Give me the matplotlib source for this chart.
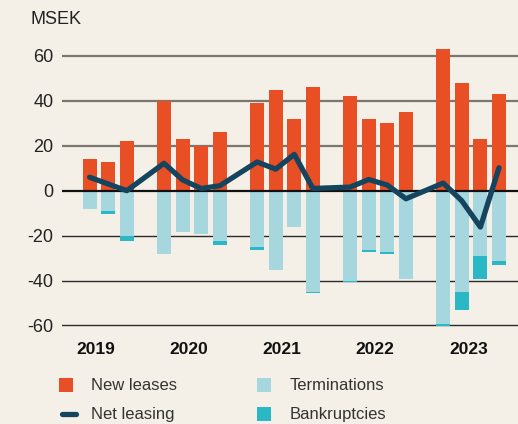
import matplotlib
matplotlib.use("Agg")
import matplotlib.pyplot as plt
import matplotlib.transforms as mtransforms
from matplotlib.patches import Rectangle
from matplotlib.lines import Line2D
import numpy as np

# ---- data (MSEK) ----
years = ["2019", "2020", "2021", "2022", "2023"]
quarters = ["2019Q2", "2019Q3", "2019Q4",
            "2020Q1", "2020Q2", "2020Q3", "2020Q4",
            "2021Q1", "2021Q2", "2021Q3", "2021Q4",
            "2022Q1", "2022Q2", "2022Q3", "2022Q4",
            "2023Q1", "2023Q2", "2023Q3", "2023Q4"]
new_leases = [14, 13, 22, 40, 23, 20, 26, 39, 45, 32, 46, 42, 32, 30, 35, 63, 48, 23, 43]
terminations = [-8, -9, -20.2, -28.2, -18.4, -19.3, -22.4, -25.1, -35.3, -16.2, -45.1,
                -40.2, -26.5, -27.3, -39.3, -59.4, -45.1, -29.1, -31.3]
bankruptcies = [0, -1.3, -2.2, 0, 0, 0, -1.8, -1.3, 0, 0, -0.5,
                -0.4, -0.8, -0.9, 0, -0.9, -8.0, -10.2, -1.8]
net_leasing = [6, 3, 0, 12.2, 4.8, 1.0, 2.2, 12.8, 9.6, 16.2, 1.0,
               1.6, 5.0, 2.5, -3.6, 3.4, -4.5, -16.2, 10.2]
yticks = [60, 40, 20, 0, -20, -40, -60]

# ---- style ----
BG = "#F4F0E8"
C_NEW = "#E84F25"
C_TERM = "#A6D7DE"
C_BANK = "#2BB8C6"
C_NET = "#15455E"
TXT = "#222222"
FONT = "Liberation Sans"

plt.rcParams["font.family"] = [FONT, "DejaVu Sans"]

W, H = 518, 424
fig = plt.figure(figsize=(W / 100, H / 100), dpi=100, facecolor=BG)
# axes in pixel geometry
ax_left, ax_right = 62, 518
ymin, ymax = -65, 65
zero_px = 190.7
ppu = 2.245
top_px = zero_px - ymax * ppu
bot_px = zero_px - ymin * ppu
ax = fig.add_axes([ax_left / W, 1 - bot_px / H, (ax_right - ax_left) / W, (bot_px - top_px) / H])
ax.set_facecolor(BG)

# positions: 5 slots per year (4 quarters + gap)
x = np.array([5 * years.index(q[:4]) + int(q[-1]) - 1 for q in quarters], dtype=float)
bw = 0.75

# grid lines (behind bars)
for v in yticks:
    if v > 0:
        ax.axhline(v, color="#7A7670", lw=1.6, zorder=0)
    elif v < 0:
        ax.axhline(v, color="#2A2A2A", lw=1.0, zorder=0)

ax.bar(x, new_leases, width=bw, color=C_NEW, zorder=2, linewidth=0)
ax.bar(x, terminations, width=bw, color=C_TERM, zorder=2, linewidth=0)
ax.bar(x, bankruptcies, width=bw, bottom=terminations, color=C_BANK, zorder=2, linewidth=0)
ax.axhline(0, color="#111111", lw=1.6, zorder=3)
ax.plot(x, net_leasing, color=C_NET, lw=3.8, solid_capstyle="round",
        solid_joinstyle="round", zorder=4)

ax.set_xlim(-0.48, 24.02)
ax.set_ylim(ymin, ymax)
for s in ax.spines.values():
    s.set_visible(False)
ax.set_yticks(yticks)
ax.set_yticklabels([str(v) for v in yticks])
ax.tick_params(axis="y", length=0, pad=6.3, labelsize=13, labelcolor=TXT)
ax.set_xticks([])

# year labels
tr = mtransforms.blended_transform_factory(ax.transData, fig.transFigure)
for i, yr in enumerate(years):
    ax.text(5 * i + 1.35, 1 - 350 / H, yr, transform=tr, ha="center", va="center",
            fontsize=12.5, fontweight="bold", color="#111111")

# unit label
fig.text(30 / W, 1 - 20 / H, "MSEK", ha="left", va="center", fontsize=13, color=TXT)

# legend (manual)
def sq(px, py, color):
    fig.add_artist(Rectangle((px / W, 1 - (py + 14) / H), 14 / W, 14 / H,
                             transform=fig.transFigure, color=color, lw=0))

sq(59, 378, C_NEW)
sq(257, 378, C_TERM)
sq(257, 407, C_BANK)
fig.add_artist(Line2D([61.5 / W, 75.5 / W], [1 - 414 / H, 1 - 414 / H], transform=fig.transFigure,
                      color=C_NET, lw=3.8, solid_capstyle="round"))
leg_fs = 12
fig.text(91 / W, 1 - 386 / H, "New leases", ha="left", va="center", fontsize=leg_fs, color="#333333")
fig.text(290 / W, 1 - 386 / H, "Terminations", ha="left", va="center", fontsize=leg_fs, color="#333333")
fig.text(91 / W, 1 - 415 / H, "Net leasing", ha="left", va="center", fontsize=leg_fs, color="#333333")
fig.text(290 / W, 1 - 415 / H, "Bankruptcies", ha="left", va="center", fontsize=leg_fs, color="#333333")

fig.savefig("out.png", dpi=100, facecolor=BG)
